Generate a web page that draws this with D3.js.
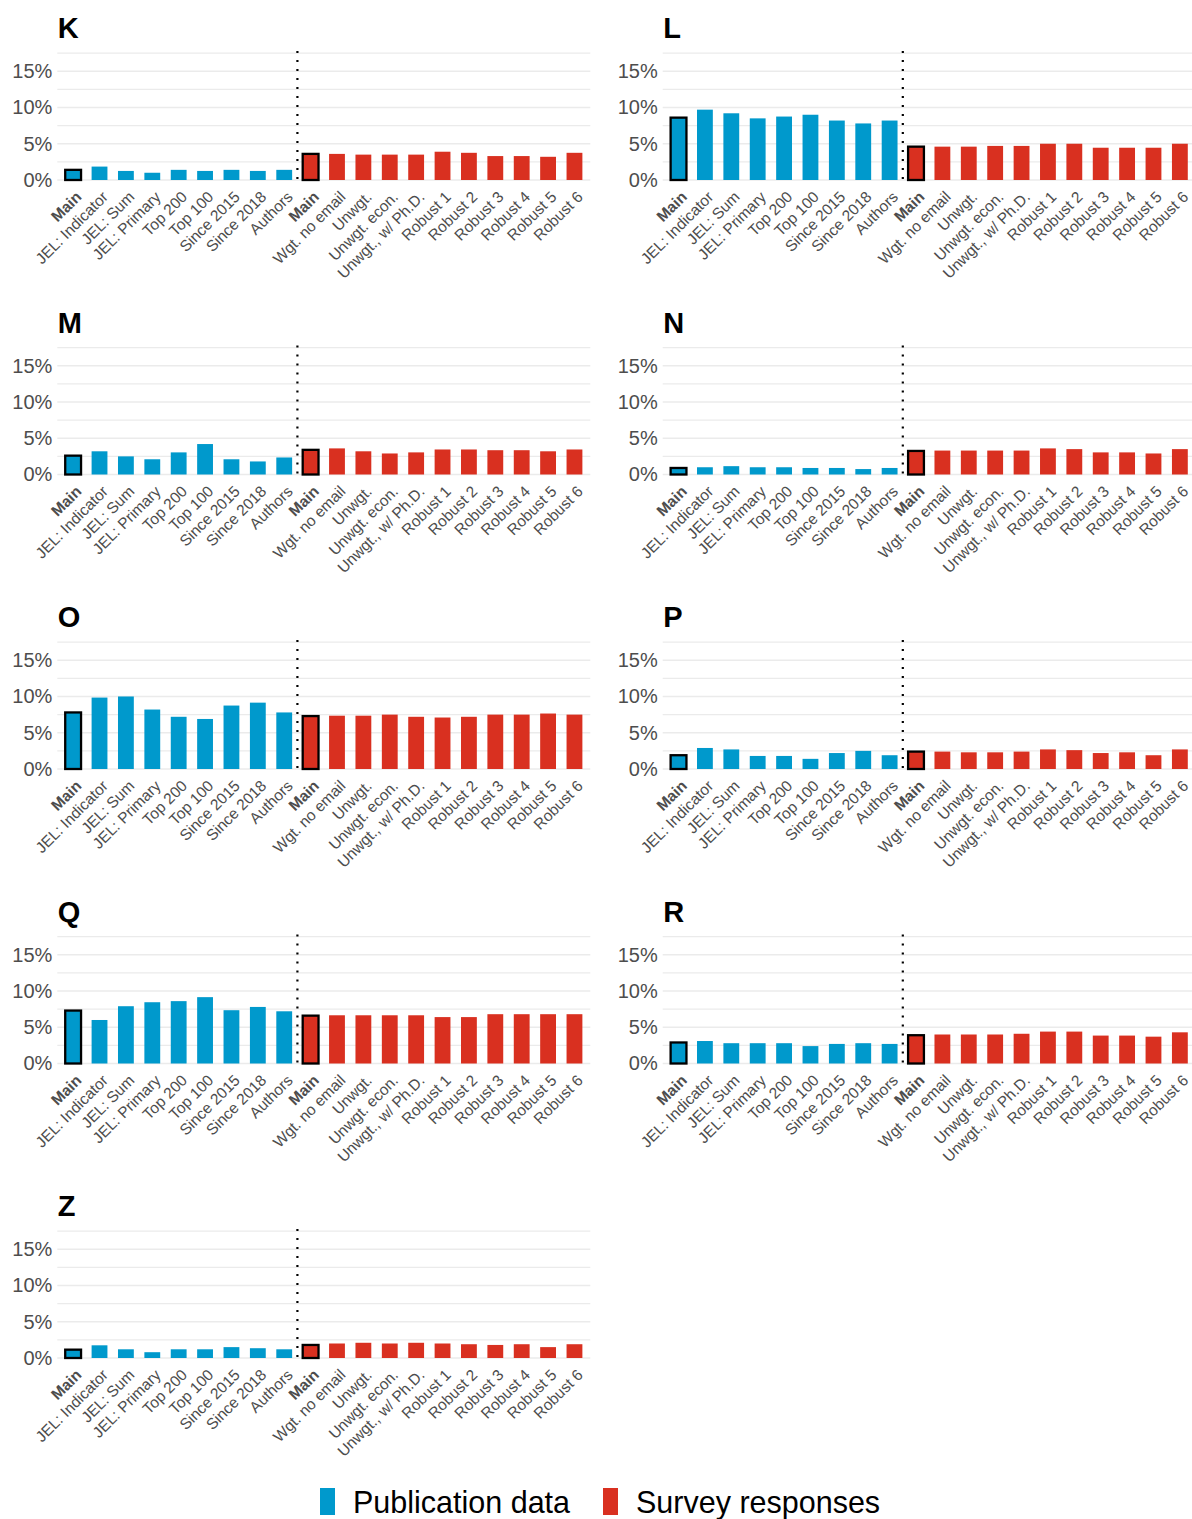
<!DOCTYPE html>
<html>
<head>
<meta charset="utf-8">
<script src="https://cdn.jsdelivr.net/npm/d3@7"></script>
<style>
  body { margin: 0; background: #fff; }
  svg { display: block; font-family: "Liberation Sans", Arial, sans-serif; }
</style>
</head>
<body>
<div id="chart"></div>
<script>
// panel letters, in reading order
const panels = ["K", "L", "M", "N", "O", "P", "Q", "R", "Z"];

const pubLabels = ["Main", "JEL: Indicator", "JEL: Sum", "JEL: Primary", "Top 200",
  "Top 100", "Since 2015", "Since 2018", "Authors"];
const surveyLabels = ["Main", "Wgt. no email", "Unwgt.", "Unwgt. econ.", "Unwgt., w/ Ph.D.",
  "Robust 1", "Robust 2", "Robust 3", "Robust 4", "Robust 5", "Robust 6"];

// shares in %, one row per panel (same order as panels)
const pubValues = [
  [1.4, 1.85, 1.25, 1.0, 1.4, 1.25, 1.4, 1.25, 1.4],
  [8.6, 9.7, 9.2, 8.5, 8.75, 9.0, 8.2, 7.8, 8.2],
  [2.6, 3.2, 2.5, 2.1, 3.05, 4.2, 2.1, 1.8, 2.35],
  [0.9, 1.0, 1.15, 1.0, 1.0, 0.9, 0.9, 0.75, 0.9],
  [7.8, 9.85, 10.0, 8.2, 7.2, 6.9, 8.75, 9.15, 7.8],
  [1.9, 2.9, 2.7, 1.8, 1.8, 1.4, 2.2, 2.5, 1.9],
  [7.3, 6.0, 7.9, 8.45, 8.6, 9.15, 7.35, 7.8, 7.2],
  [2.9, 3.1, 2.8, 2.8, 2.8, 2.4, 2.7, 2.8, 2.7],
  [1.15, 1.75, 1.2, 0.8, 1.2, 1.2, 1.5, 1.35, 1.2]
];
const surveyValues = [
  [3.6, 3.6, 3.5, 3.5, 3.5, 3.9, 3.75, 3.3, 3.3, 3.2, 3.75],
  [4.6, 4.6, 4.6, 4.7, 4.7, 5.0, 5.0, 4.45, 4.45, 4.45, 5.0],
  [3.4, 3.6, 3.2, 2.9, 3.05, 3.45, 3.45, 3.35, 3.35, 3.2, 3.45],
  [3.25, 3.3, 3.3, 3.3, 3.3, 3.6, 3.5, 3.05, 3.05, 2.9, 3.5],
  [7.3, 7.35, 7.35, 7.5, 7.2, 7.1, 7.2, 7.5, 7.5, 7.65, 7.5],
  [2.4, 2.4, 2.3, 2.3, 2.4, 2.7, 2.6, 2.2, 2.3, 1.9, 2.7],
  [6.6, 6.65, 6.65, 6.65, 6.65, 6.4, 6.4, 6.8, 6.8, 6.8, 6.8],
  [3.9, 4.0, 4.0, 4.0, 4.1, 4.4, 4.4, 3.85, 3.85, 3.7, 4.3],
  [1.8, 2.0, 2.1, 2.0, 2.1, 2.0, 1.9, 1.8, 1.9, 1.5, 1.9]
];

const yTicks = [0, 5, 10, 15];
const legendItems = ["Publication data", "Survey responses"];

const width = 1192, height = 1519;
const colBlue = "#0099cc", colRed = "#d93020";
const labelGrey = "#4d4d4d";

const svg = d3.select("#chart")
  .append("svg")
  .attr("width", width)
  .attr("height", height);

const labels = pubLabels.concat(surveyLabels);
const nPub = pubLabels.length;

const colX = [57.3, 662.7];
const panelW = 533;
const rowPitch = 294.5;

panels.forEach((name, p) => {
  const col = p % 2, row = Math.floor(p / 2);
  const x0 = colX[col];
  const zero = 180 + row * rowPitch;

  const x = d3.scaleBand()
    .domain(d3.range(labels.length))
    .range([x0, x0 + panelW])
    .paddingInner(0.4)
    .paddingOuter(0.3);

  const y = d3.scaleLinear()
    .domain([0, 17.5])
    .range([zero, zero - 126.9]);

  const g = svg.append("g");

  // grid (major + minor)
  g.append("g")
    .selectAll("line")
    .data(d3.range(0, 17.6, 2.5))
    .join("line")
    .attr("x1", x0).attr("x2", x0 + panelW)
    .attr("y1", d => y(d)).attr("y2", d => y(d))
    .attr("stroke", "#ebebeb")
    .attr("stroke-width", d => d % 5 === 0 ? 1.3 : 1.1);

  // title
  g.append("text")
    .attr("x", x0 + 0.5)
    .attr("y", zero - 142)
    .attr("font-size", 29)
    .attr("font-weight", "bold")
    .attr("fill", "#000")
    .text(name);

  // y axis labels
  const yAxis = g.append("g")
    .attr("transform", `translate(${x0},0)`)
    .call(d3.axisLeft(y).tickValues(yTicks).tickFormat(d => d + "%").tickSize(0).tickPadding(5));
  yAxis.select(".domain").remove();
  yAxis.selectAll("text")
    .attr("font-size", 20)
    .attr("font-family", "Liberation Sans, Arial, sans-serif")
    .attr("fill", labelGrey);

  const vals = pubValues[p].concat(surveyValues[p]);
  const bars = vals.map((v, i) => ({ i, v }));

  g.append("g")
    .selectAll("rect")
    .data(bars)
    .join("rect")
    .attr("x", d => x(d.i))
    .attr("width", x.bandwidth())
    .attr("y", d => y(d.v))
    .attr("height", d => y(0) - y(d.v))
    .attr("fill", d => d.i < nPub ? colBlue : colRed)
    .attr("stroke", d => (d.i === 0 || d.i === nPub) ? "#000" : "none")
    .attr("stroke-width", 2.3);

  // separator between sources
  const sepX = x(nPub - 1) + x.bandwidth() / 2 + x.step() / 2;
  g.append("line")
    .attr("x1", sepX).attr("x2", sepX)
    .attr("y1", y(17.5) - 2).attr("y2", zero + 6)
    .attr("stroke", "#000")
    .attr("stroke-width", 2.2)
    .attr("stroke-dasharray", "2,7");

  // x labels
  const xAxis = g.append("g")
    .attr("transform", `translate(0,${zero})`)
    .call(d3.axisBottom(x).tickFormat(i => labels[i]).tickSize(0));
  xAxis.select(".domain").remove();
  xAxis.selectAll("text")
    .attr("x", 0).attr("y", 0)
    .attr("dy", "0.72em")
    .attr("text-anchor", "end")
    .attr("transform", "translate(1.5,10) rotate(-45)")
    .attr("font-size", 15.5)
    .attr("font-family", "Liberation Sans, Arial, sans-serif")
    .attr("font-weight", d => (d === 0 || d === nPub) ? "bold" : "normal")
    .attr("fill", labelGrey);
});

// legend
const legendX = [320, 603];
const legend = svg.append("g");
legendItems.forEach((t, k) => {
  legend.append("rect")
    .attr("x", legendX[k]).attr("y", 1488)
    .attr("width", 15).attr("height", 27)
    .attr("fill", k === 0 ? colBlue : colRed);
  legend.append("text")
    .attr("x", legendX[k] + 33)
    .attr("y", 1513)
    .attr("font-size", 30.5)
    .attr("fill", "#000")
    .text(t);
});
</script>
</body>
</html>
